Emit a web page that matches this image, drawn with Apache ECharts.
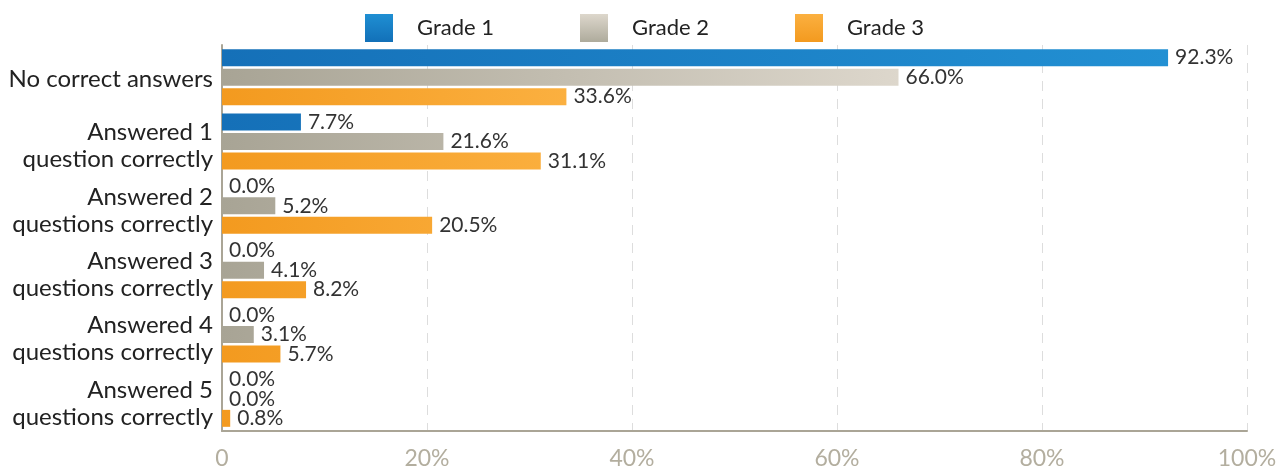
<!DOCTYPE html>
<html><head><meta charset="utf-8">
<script src="https://cdn.jsdelivr.net/npm/echarts@6/dist/echarts.min.js"></script>
<style>html,body{margin:0;padding:0;background:#fff}#c{width:1286px;height:470px}</style>
</head><body><div id="c"></div>
<script>
const categories = ['No correct answers','Answered 1\nquestion correctly','Answered 2\nquestions correctly','Answered 3\nquestions correctly','Answered 4\nquestions correctly','Answered 5\nquestions correctly'];
const seriesNames = ['Grade 1','Grade 2','Grade 3'];
const grade1 = [92.3, 7.7, 0.0, 0.0, 0.0, 0.0];
const grade2 = [66.0, 21.6, 5.2, 4.1, 3.1, 0.0];
const grade3 = [33.6, 31.1, 20.5, 8.2, 5.7, 0.8];
const xTicks = [0, 20, 40, 60, 80, 100];

const FONT = 'Lato';
function hgrad(c1, c2, x2){ return {type:'linear', x:222, y:0, x2:x2, y2:0, global:true, colorStops:[{offset:0,color:c1},{offset:1,color:c2}]}; }
function vgrad(c1, c2){ return {type:'linear', x:0, y:0, x2:0, y2:1, colorStops:[{offset:0,color:c1},{offset:1,color:c2}]}; }
const fills = [hgrad('#1570b8','#2290d3',1169), hgrad('#a8a495','#ddd7cc',900), hgrad('#f39a1f','#fbb040',568)];
const legendFills = [vgrad('#1f8fd3','#1270b8'), vgrad('#ddd7cc','#aeab9c'), vgrad('#fbb040','#f39a1f')];
const data = [grade1, grade2, grade3];

const chart = echarts.init(document.getElementById('c'), null, {renderer:'canvas'});
chart.setOption({
  animation:false,
  textStyle:{fontFamily:FONT},
  legend:{
    top:9, left:360, itemWidth:28, itemHeight:28, itemGap:86,
    textStyle:{fontFamily:FONT, fontSize:22, color:'#222', padding:[0,0,0,19]},
    data: seriesNames.map((n,i)=>({name:n, icon:'rect', itemStyle:{color:legendFills[i]}}))
  },
  grid:{left:222, right:39, top:45, bottom:37, containLabel:false},
  xAxis:{
    type:'value', min:0, max:100, interval:20,
    axisLine:{show:true, lineStyle:{color:'#aaa596', width:2}},
    axisTick:{show:false},
    splitLine:{show:true, lineStyle:{color:'#dddddd', type:[10,8], width:1}},
    axisLabel:{fontFamily:FONT, fontSize:23, color:'#b3ae9f', margin:16,
      formatter: v => xTicks.includes(v) ? (v===0 ? '0' : v + '%') : ''}
  },
  yAxis:{
    type:'category', data:categories, inverse:true,
    axisLine:{show:true, lineStyle:{color:'#aaa596', width:2}},
    axisTick:{show:false},
    axisLabel:{fontFamily:FONT, fontSize:24, color:'#222', margin:9, lineHeight:27, align:'right',
      formatter: v => (v.indexOf('\n') >= 0 ? '{s8| }\n' : '{s4| }\n') + v.split('\n').map(l => '{t|' + l + '}').join('\n'),
      rich:{
        s8:{fontSize:1, lineHeight:9},
        s4:{fontSize:1, lineHeight:4},
        t:{fontFamily:FONT, fontSize:24, color:'#222', lineHeight:27}
      }
    }
  },
  series: seriesNames.map((n,i)=>({
    name:n, type:'bar', data:data[i],
    barGap:'15%', barCategoryGap:'13%',
    itemStyle:{color:fills[i]},
    label:{show:true, position:'right', distance:7, fontFamily:FONT, fontSize:21, color:'#333',
      formatter: p => p.value.toFixed(1) + '%'}
  }))
});
</script></body></html>
